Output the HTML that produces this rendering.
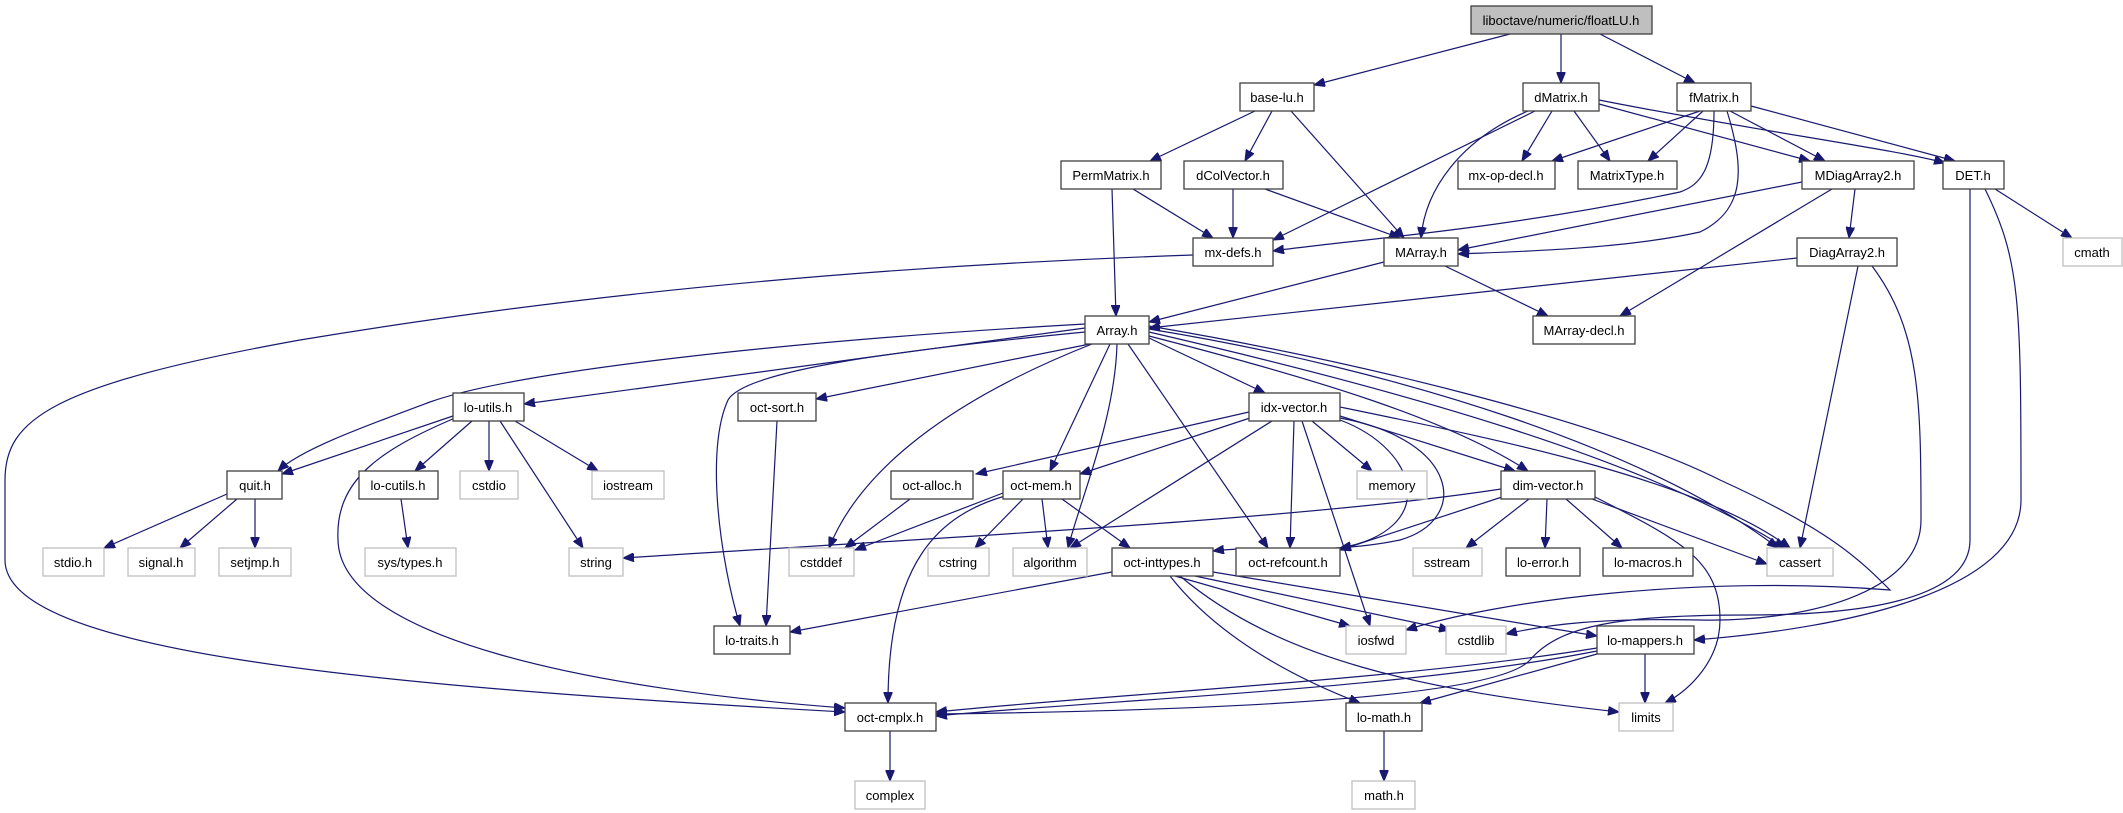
<!DOCTYPE html>
<html><head><meta charset="utf-8"><style>
html,body{margin:0;padding:0;background:#fff;}
svg{display:block;}
text{font-family:"Liberation Sans",Arial,sans-serif;font-size:13px;text-anchor:middle;fill:#000;}
.n{fill:#fff;stroke:#404040;stroke-width:1.3;}
.g{fill:#fff;stroke:#bfbfbf;stroke-width:1.3;}
.e{fill:none;stroke:#191970;stroke-width:1.2;marker-end:url(#a);}
</style></head><body>
<svg width="2123" height="813" viewBox="0 0 2123 813" xmlns="http://www.w3.org/2000/svg">
<defs><marker id="a" markerUnits="userSpaceOnUse" markerWidth="12" markerHeight="9" refX="11" refY="4.5" orient="auto"><path d="M0,0 L11,4.5 L0,9 z" fill="#191970" stroke="#191970"/></marker></defs>
<g>
<path class="e" d="M1510,34 L1314,85"/><path class="e" d="M1561,34 L1561,83"/><path class="e" d="M1600,34 L1695,83"/>
<path class="e" d="M1255,111 L1150,161"/><path class="e" d="M1272,111 L1245,161"/><path class="e" d="M1291,111 L1404,238"/>
<path class="e" d="M1535,111 L1273,240"/><path class="e" d="M1528,111 C1460,140 1425,190 1421,238"/><path class="e" d="M1552,111 L1522,161"/><path class="e" d="M1574,111 L1610,161"/><path class="e" d="M1599,104 L1810,161"/><path class="e" d="M1599,100 C1750,130 1900,150 1945,163"/>
<path class="e" d="M1700,111 L1552,161"/><path class="e" d="M1703,111 L1648,161"/><path class="e" d="M1730,111 L1825,161"/><path class="e" d="M1751,106 L1955,161"/>
<path class="e" d="M1714,111 C1714,170 1700,185 1680,192 C1500,230 1350,240 1273,251"/>
<path class="e" d="M1727,111 C1745,170 1745,210 1700,232 C1620,250 1500,252 1458,254"/>
<path class="e" d="M1133,189 L1213,238"/><path class="e" d="M1112,189 L1116,316"/>
<path class="e" d="M1233,189 L1233,238"/><path class="e" d="M1265,189 L1400,238"/>
<path class="e" d="M1802,182 L1458,250"/><path class="e" d="M1832,189 L1620,316"/><path class="e" d="M1855,189 L1849,238"/>
<path class="e" d="M1995,189 L2072,238"/>
<path class="e" d="M1193,255 C900,265 600,290 300,340 C50,385 5,420 5,480 L5,560 C5,650 350,685 845,712"/>
<path class="e" d="M1384,262 L1149,322"/><path class="e" d="M1445,266 L1548,316"/>
<path class="e" d="M1797,258 L1149,328"/><path class="e" d="M1858,266 L1800,548"/>
<path class="e" d="M1872,266 C1920,330 1921,400 1921,520 C1921,595 1800,622 1700,620 C1600,618 1550,624 1506,634"/>
<path class="e" d="M1970,189 L1970,540 C1970,600 1860,615 1750,615 C1620,615 1560,625 1530,660 C1490,705 1100,712 936,714"/>
<path class="e" d="M1985,189 C2020,260 2021,300 2021,500 C2021,590 1850,628 1694,640"/>
<path class="e" d="M1085,328 L524,404"/>
<path class="e" d="M1085,324 C800,340 520,370 430,402 C360,428 300,450 278,471"/>
<path class="e" d="M1090,344 L816,399"/>
<path class="e" d="M1085,332 C900,350 745,370 728,400 C705,450 720,560 740,626"/>
<path class="e" d="M1092,344 C950,400 860,470 829,548"/>
<path class="e" d="M1110,344 L1050,471"/>
<path class="e" d="M1117,344 C1115,420 1080,500 1068,548"/>
<path class="e" d="M1128,344 L1268,548"/>
<path class="e" d="M1149,338 L1265,393"/>
<path class="e" d="M1149,336 C1320,380 1450,420 1528,471"/>
<path class="e" d="M1149,332 C1400,390 1650,460 1785,548"/>
<path class="e" d="M1149,329 C1400,370 1650,450 1778,548"/>
<path class="e" d="M1149,326 C1350,360 1600,420 1720,480 C1830,530 1860,560 1890,590 C1700,575 1500,600 1406,630"/>
<path class="e" d="M453,416 L282,474"/><path class="e" d="M472,421 L415,471"/><path class="e" d="M489,421 L489,471"/><path class="e" d="M515,421 L598,471"/><path class="e" d="M500,421 L583,548"/>
<path class="e" d="M455,418 C380,450 335,480 338,540 C340,640 600,690 845,708"/>
<path class="e" d="M227,494 L104,548"/><path class="e" d="M237,499 L180,548"/><path class="e" d="M255,499 L255,548"/>
<path class="e" d="M401,499 L408,548"/>
<path class="e" d="M777,421 L766,626"/>
<path class="e" d="M1249,412 L976,474"/><path class="e" d="M1250,418 L1080,474"/><path class="e" d="M1272,421 L1070,548"/><path class="e" d="M1294,421 L1290,548"/><path class="e" d="M1302,421 L1370,626"/><path class="e" d="M1312,421 L1372,471"/><path class="e" d="M1340,416 L1515,471"/>
<path class="e" d="M1340,407 C1500,440 1700,480 1790,548"/>
<path class="e" d="M1340,418 C1460,440 1470,520 1400,540 C1330,555 1260,545 1213,551"/>
<path class="e" d="M1340,420 C1420,450 1440,530 1340,548"/>
<path class="e" d="M910,499 L845,548"/>
<path class="e" d="M1003,493 L855,550"/><path class="e" d="M1023,499 L975,548"/><path class="e" d="M1042,499 L1048,548"/><path class="e" d="M1062,499 L1130,548"/>
<path class="e" d="M1005,496 C940,515 888,560 888,703"/>
<path class="e" d="M1501,489 C1300,520 900,540 623,558"/><path class="e" d="M1502,497 L1340,550"/><path class="e" d="M1529,499 L1466,548"/><path class="e" d="M1547,499 L1545,548"/><path class="e" d="M1566,499 L1622,548"/><path class="e" d="M1592,499 L1767,564"/>
<path class="e" d="M1595,497 C1680,540 1720,560 1720,620 C1720,660 1690,690 1665,703"/>
<path class="e" d="M1112,572 L790,632"/><path class="e" d="M1175,576 L1350,626"/><path class="e" d="M1195,576 L1450,630"/><path class="e" d="M1213,572 L1597,636"/>
<path class="e" d="M1170,576 C1220,640 1300,680 1360,703"/>
<path class="e" d="M1180,576 C1280,660 1420,690 1619,712"/>
<path class="e" d="M1597,648 C1400,680 1100,695 936,712"/><path class="e" d="M1597,651 C1400,690 1100,700 936,716"/>
<path class="e" d="M1645,654 L1645,703"/><path class="e" d="M1597,654 L1420,703"/>
<path class="e" d="M1384,731 L1384,781"/><path class="e" d="M890,731 L890,781"/>
</g>
<g>
<rect x="1471" y="6" width="181" height="28" fill="#bfbfbf" stroke="#404040" stroke-width="1.3"/><text x="1561" y="25">liboctave/numeric/floatLU.h</text>
<rect class="n" x="1240" y="83" width="74" height="28"/><text x="1277" y="102">base-lu.h</text>
<rect class="n" x="1523" y="83" width="76" height="28"/><text x="1561" y="102">dMatrix.h</text>
<rect class="n" x="1677" y="83" width="74" height="28"/><text x="1714" y="102">fMatrix.h</text>
<rect class="n" x="1061" y="161" width="100" height="28"/><text x="1111" y="180">PermMatrix.h</text>
<rect class="n" x="1184" y="161" width="99" height="28"/><text x="1233" y="180">dColVector.h</text>
<rect class="n" x="1458" y="161" width="97" height="28"/><text x="1506" y="180">mx-op-decl.h</text>
<rect class="n" x="1578" y="161" width="99" height="28"/><text x="1627" y="180">MatrixType.h</text>
<rect class="n" x="1802" y="161" width="112" height="28"/><text x="1858" y="180">MDiagArray2.h</text>
<rect class="n" x="1943" y="161" width="61" height="28"/><text x="1973" y="180">DET.h</text>
<rect class="n" x="1193" y="238" width="80" height="28"/><text x="1233" y="257">mx-defs.h</text>
<rect class="n" x="1384" y="238" width="74" height="28"/><text x="1421" y="257">MArray.h</text>
<rect class="n" x="1797" y="238" width="100" height="28"/><text x="1847" y="257">DiagArray2.h</text>
<rect class="g" x="2063" y="238" width="59" height="28"/><text x="2092" y="257">cmath</text>
<rect class="n" x="1085" y="316" width="64" height="28"/><text x="1117" y="335">Array.h</text>
<rect class="n" x="1533" y="316" width="102" height="28"/><text x="1584" y="335">MArray-decl.h</text>
<rect class="n" x="453" y="393" width="71" height="28"/><text x="488" y="412">lo-utils.h</text>
<rect class="n" x="738" y="393" width="78" height="28"/><text x="777" y="412">oct-sort.h</text>
<rect class="n" x="1249" y="393" width="91" height="28"/><text x="1294" y="412">idx-vector.h</text>
<rect class="n" x="227" y="471" width="55" height="28"/><text x="255" y="490">quit.h</text>
<rect class="n" x="359" y="471" width="79" height="28"/><text x="398" y="490">lo-cutils.h</text>
<rect class="g" x="460" y="471" width="58" height="28"/><text x="489" y="490">cstdio</text>
<rect class="g" x="592" y="471" width="72" height="28"/><text x="628" y="490">iostream</text>
<rect class="n" x="891" y="471" width="82" height="28"/><text x="932" y="490">oct-alloc.h</text>
<rect class="n" x="1003" y="471" width="77" height="28"/><text x="1041" y="490">oct-mem.h</text>
<rect class="g" x="1357" y="471" width="70" height="28"/><text x="1392" y="490">memory</text>
<rect class="n" x="1501" y="471" width="94" height="28"/><text x="1548" y="490">dim-vector.h</text>
<rect class="g" x="43" y="548" width="61" height="28"/><text x="73" y="567">stdio.h</text>
<rect class="g" x="128" y="548" width="67" height="28"/><text x="161" y="567">signal.h</text>
<rect class="g" x="219" y="548" width="72" height="28"/><text x="255" y="567">setjmp.h</text>
<rect class="g" x="365" y="548" width="91" height="28"/><text x="410" y="567">sys/types.h</text>
<rect class="g" x="569" y="548" width="54" height="28"/><text x="596" y="567">string</text>
<rect class="g" x="789" y="548" width="65" height="28"/><text x="821" y="567">cstddef</text>
<rect class="g" x="928" y="548" width="61" height="28"/><text x="958" y="567">cstring</text>
<rect class="g" x="1013" y="548" width="74" height="28"/><text x="1050" y="567">algorithm</text>
<rect class="n" x="1112" y="548" width="101" height="28"/><text x="1162" y="567">oct-inttypes.h</text>
<rect class="n" x="1236" y="548" width="104" height="28"/><text x="1288" y="567">oct-refcount.h</text>
<rect class="g" x="1413" y="548" width="69" height="28"/><text x="1447" y="567">sstream</text>
<rect class="n" x="1506" y="548" width="74" height="28"/><text x="1543" y="567">lo-error.h</text>
<rect class="n" x="1603" y="548" width="90" height="28"/><text x="1648" y="567">lo-macros.h</text>
<rect class="g" x="1767" y="548" width="66" height="28"/><text x="1800" y="567">cassert</text>
<rect class="n" x="714" y="626" width="76" height="28"/><text x="752" y="645">lo-traits.h</text>
<rect class="g" x="1346" y="626" width="60" height="28"/><text x="1376" y="645">iosfwd</text>
<rect class="g" x="1446" y="626" width="60" height="28"/><text x="1476" y="645">cstdlib</text>
<rect class="n" x="1597" y="626" width="97" height="28"/><text x="1645" y="645">lo-mappers.h</text>
<rect class="n" x="845" y="703" width="91" height="28"/><text x="890" y="722">oct-cmplx.h</text>
<rect class="n" x="1346" y="703" width="76" height="28"/><text x="1384" y="722">lo-math.h</text>
<rect class="g" x="1619" y="703" width="54" height="28"/><text x="1646" y="722">limits</text>
<rect class="g" x="855" y="781" width="70" height="28"/><text x="890" y="800">complex</text>
<rect class="g" x="1352" y="781" width="63" height="28"/><text x="1384" y="800">math.h</text>
</g>
</svg>
</body></html>
